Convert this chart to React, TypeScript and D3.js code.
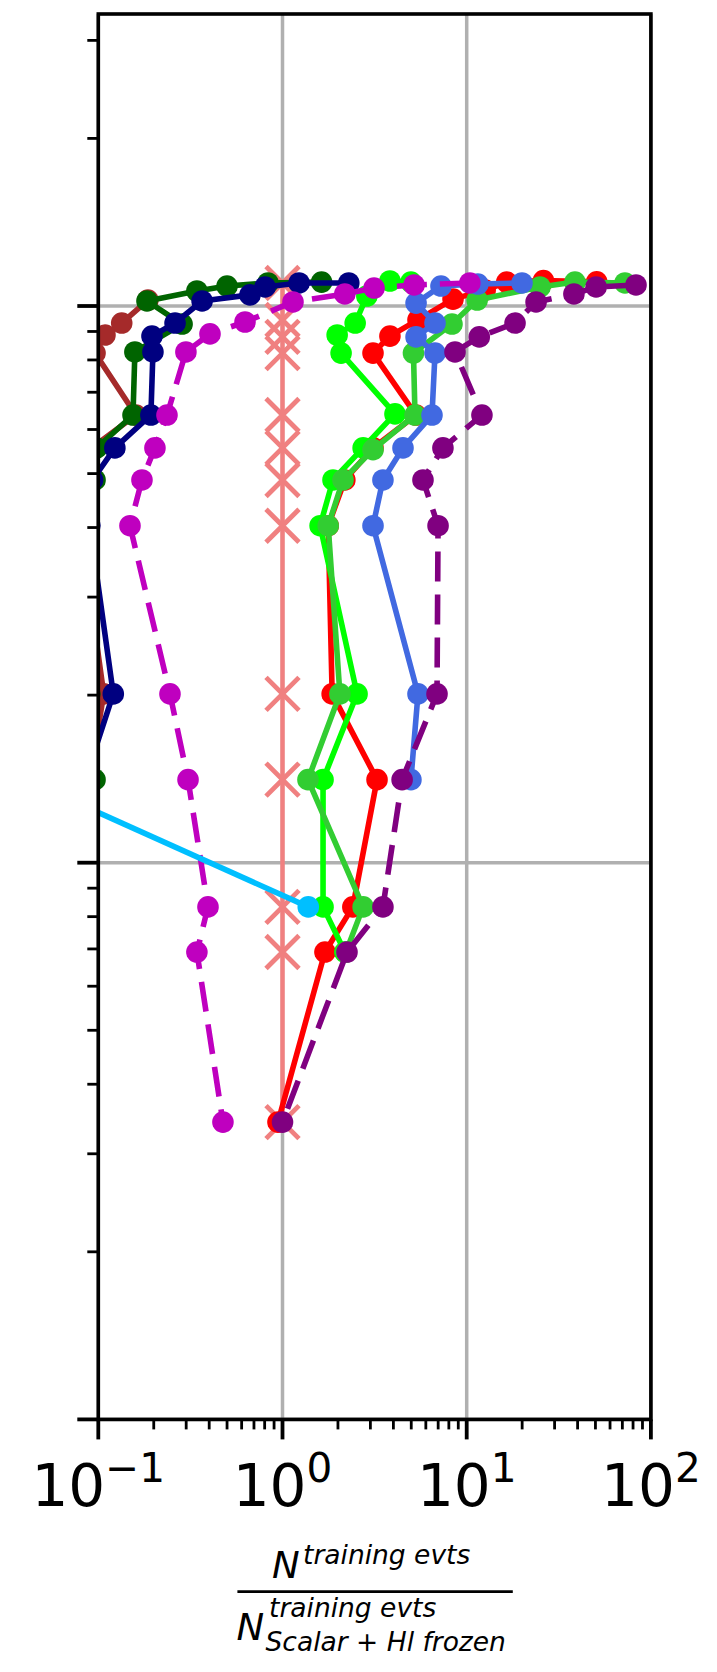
import React from 'react';
import * as d3 from 'd3';

const W = 717;
const H = 1672;
const plot = { left: 98.3, right: 650.9, top: 14, bottom: 1419.4 };

const xDomain: [number, number] = [0.1, 100];
const yDomain: [number, number] = [0.01, 3.346];
const xTickExps = [-1, 0, 1, 2];
const xTickLabels = ['\u22121', '0', '1', '2'];
const yMajorTicks = [0.01, 0.1, 1];

// Reference: ratio 1 at every working point
const refX = [1, 1, 1, 1, 1, 1, 1, 1, 1, 1, 1, 1, 1];
const refY = [1.1, 0.944, 0.88, 0.823, 0.637, 0.556, 0.487, 0.403, 0.201, 0.141, 0.0833, 0.0691, 0.0342];

const brownX = [0.186, 0.134, 0.1087, 0.096, 0.16, 0.092, 0.085, 0.08, 0.107, 0.09];
const brownY = [1.025, 0.932, 0.887, 0.823, 0.637, 0.556, 0.487, 0.403, 0.201, 0.141];

const darkgreenX = [1.63, 0.834, 0.5, 0.343, 0.1838, 0.285, 0.158, 0.1543, 0.098, 0.096, 0.085, 0.09, 0.096];
const darkgreenY = [1.104, 1.1, 1.086, 1.064, 1.021, 0.928, 0.827, 0.637, 0.556, 0.487, 0.403, 0.201, 0.141];

const navyX = [2.29, 1.23, 0.804, 0.666, 0.366, 0.261, 0.1956, 0.198, 0.193, 0.123, 0.093, 0.09, 0.1206, 0.085];
const navyY = [1.1, 1.1, 1.082, 1.047, 1.021, 0.932, 0.883, 0.827, 0.637, 0.556, 0.487, 0.403, 0.201, 0.141];

const redX = [50.8, 26.1, 16.5, 12.6, 8.43, 5.44, 3.83, 3.1, 5.31, 3.1, 2.18, 1.77, 1.86, 3.26, 2.41, 1.7, 0.945];
const redY = [1.105, 1.111, 1.104, 1.068, 1.029, 0.944, 0.883, 0.823, 0.637, 0.556, 0.487, 0.403, 0.201, 0.141, 0.0833, 0.0691, 0.0342];

const limeX = [4.98, 3.83, 2.87, 2.48, 1.98, 2.08, 4.08, 2.74, 1.88, 1.6, 2.54, 1.66, 1.66, 2.18];
const limeY = [1.104, 1.109, 1.042, 0.932, 0.887, 0.823, 0.64, 0.556, 0.487, 0.403, 0.201, 0.141, 0.0833, 0.0691];

const limegreenX = [72.3, 38.7, 25.0, 11.4, 8.32, 5.14, 5.24, 3.1, 2.13, 1.77, 2.05, 1.375, 2.74, 2.21];
const limegreenY = [1.1, 1.104, 1.082, 1.025, 0.928, 0.823, 0.637, 0.552, 0.487, 0.403, 0.201, 0.141, 0.0833, 0.0691];

const royalblueX = [19.96, 11.5, 7.25, 5.31, 6.73, 5.31, 6.73, 6.48, 4.51, 3.51, 3.1, 5.44, 4.98];
const royalblueY = [1.1, 1.095, 1.086, 1.012, 0.932, 0.88, 0.823, 0.637, 0.556, 0.487, 0.403, 0.201, 0.141];

const magentaX = [10.4, 5.18, 3.14, 2.18, 1.14, 0.626, 0.404, 0.299, 0.236, 0.203, 0.1726, 0.1486, 0.245, 0.307, 0.394, 0.343, 0.475];
const magentaY = [1.1, 1.091, 1.077, 1.051, 1.017, 0.936, 0.891, 0.827, 0.637, 0.556, 0.487, 0.403, 0.201, 0.141, 0.0833, 0.0691, 0.0342];

const purpleX = [83.0, 50.4, 38.2, 23.8, 18.3, 11.7, 8.64, 12.1, 7.43, 5.79, 6.99, 6.9, 4.46, 3.51, 2.24, 1.0];
const purpleY = [1.091, 1.082, 1.051, 1.017, 0.932, 0.88, 0.827, 0.637, 0.556, 0.487, 0.403, 0.201, 0.141, 0.0833, 0.0691, 0.0342];

const skyblueX = [0.04, 1.38];
const skyblueY = [0.141, 0.0833];

type Series = {
  key: string;
  color: string;
  xs: number[];
  ys: number[];
  dashed?: boolean;
  marker: 'o' | 'x';
  lw: number;
};

const series: Series[] = [
  { key: 'ref', color: '#f08080', xs: refX, ys: refY, marker: 'x', lw: 4.5 },
  { key: 'brown', color: '#a52a2a', xs: brownX, ys: brownY, marker: 'o', lw: 5.6 },
  { key: 'darkgreen', color: '#006400', xs: darkgreenX, ys: darkgreenY, marker: 'o', lw: 5.6 },
  { key: 'navy', color: '#000080', xs: navyX, ys: navyY, marker: 'o', lw: 5.6 },
  { key: 'red', color: '#ff0000', xs: redX, ys: redY, marker: 'o', lw: 5.6 },
  { key: 'lime', color: '#00ff00', xs: limeX, ys: limeY, marker: 'o', lw: 5.6 },
  { key: 'limegreen', color: '#32cd32', xs: limegreenX, ys: limegreenY, marker: 'o', lw: 5.6 },
  { key: 'royalblue', color: '#4169e1', xs: royalblueX, ys: royalblueY, marker: 'o', lw: 5.6 },
  { key: 'magenta', color: '#bf00bf', xs: magentaX, ys: magentaY, marker: 'o', lw: 5.6, dashed: true },
  { key: 'purple', color: '#800080', xs: purpleX, ys: purpleY, marker: 'o', lw: 5.6, dashed: true },
  { key: 'skyblue', color: '#00bfff', xs: skyblueX, ys: skyblueY, marker: 'o', lw: 5.6 },
];

export default function App() {
  const x = d3.scaleLog().domain(xDomain).range([plot.left, plot.right]);
  const y = d3.scaleLog().domain(yDomain).range([plot.bottom, plot.top]);
  const line = d3
    .line<[number, number]>()
    .x((d) => x(d[0]))
    .y((d) => y(d[1]));

  const xMinor: number[] = [];
  for (let e = -1; e <= 1; e++) for (let k = 2; k <= 9; k++) xMinor.push(k * Math.pow(10, e));
  const yMinor: number[] = [];
  for (let e = -2; e <= 0; e++)
    for (let k = 2; k <= 9; k++) {
      const v = k * Math.pow(10, e);
      if (v <= yDomain[1]) yMinor.push(v);
    }

  const font = 'DejaVu Sans, sans-serif';

  return (
    <svg
      width={W}
      height={H}
      viewBox={`0 0 ${W} ${H}`}
      style={{ position: 'absolute', left: 0, top: 0, background: '#fff' }}
    >
      <defs>
        <clipPath id="plotArea">
          <rect x={plot.left} y={plot.top} width={plot.right - plot.left} height={plot.bottom - plot.top} />
        </clipPath>
      </defs>
      <rect x={0} y={0} width={W} height={H} fill="#fff" />

      {/* grid */}
      <g stroke="#b0b0b0" strokeWidth={3.5}>
        {xTickExps.map((e) => (
          <line key={`gx${e}`} x1={x(Math.pow(10, e))} x2={x(Math.pow(10, e))} y1={plot.top} y2={plot.bottom} />
        ))}
        {yMajorTicks.map((v) => (
          <line key={`gy${v}`} x1={plot.left} x2={plot.right} y1={y(v)} y2={y(v)} />
        ))}
      </g>

      {/* data */}
      <g clipPath="url(#plotArea)">
        {series.map((s) => {
          const pts = s.xs.map((xv, i) => [xv, s.ys[i]] as [number, number]);
          return (
            <g key={s.key}>
              <path
                d={line(pts) || ''}
                fill="none"
                stroke={s.color}
                strokeWidth={s.lw}
                strokeDasharray={s.dashed ? '30 13' : undefined}
                strokeLinejoin="round"
              />
              {pts.map((p, i) =>
                s.marker === 'o' ? (
                  <circle key={i} cx={x(p[0])} cy={y(p[1])} r={10.8} fill={s.color} />
                ) : (
                  <path
                    key={i}
                    transform={`translate(${x(p[0])},${y(p[1])})`}
                    d="M-16.5,-16.5L16.5,16.5M-16.5,16.5L16.5,-16.5"
                    stroke={s.color}
                    strokeWidth={4.8}
                    fill="none"
                  />
                )
              )}
            </g>
          );
        })}
      </g>

      {/* spines */}
      <rect
        x={plot.left}
        y={plot.top}
        width={plot.right - plot.left}
        height={plot.bottom - plot.top}
        fill="none"
        stroke="#000"
        strokeWidth={3.6}
      />

      {/* y ticks */}
      <g stroke="#000">
        {yMajorTicks.map((v) => (
          <line key={`ym${v}`} x1={plot.left - 21} x2={plot.left} y1={y(v)} y2={y(v)} strokeWidth={3.8} />
        ))}
        {yMinor.map((v) => (
          <line key={`yn${v}`} x1={plot.left - 11} x2={plot.left} y1={y(v)} y2={y(v)} strokeWidth={2.8} />
        ))}
      </g>

      {/* x ticks */}
      <g stroke="#000">
        {xTickExps.map((e) => (
          <line
            key={`xm${e}`}
            x1={x(Math.pow(10, e))}
            x2={x(Math.pow(10, e))}
            y1={plot.bottom}
            y2={plot.bottom + 20}
            strokeWidth={3.8}
          />
        ))}
        {xMinor.map((v) => (
          <line key={`xn${v}`} x1={x(v)} x2={x(v)} y1={plot.bottom} y2={plot.bottom + 10} strokeWidth={2.8} />
        ))}
      </g>

      {/* x tick labels */}
      <g fontFamily={font} fill="#000">
        {xTickExps.map((e, i) => (
          <text key={`xl${e}`} x={x(Math.pow(10, e))} y={1506} fontSize={58} textAnchor="middle">
            10
            <tspan dy={-24.5} fontSize={40.6}>
              {xTickLabels[i]}
            </tspan>
          </text>
        ))}
      </g>

      {/* x axis label as a fraction */}
      <g fontFamily={font} fontStyle="italic" fill="#000">
        <text x={272} y={1578.3} fontSize={37}>N</text>
        <text x={303} y={1564} fontSize={26.5}>training evts</text>
        <line x1={237.4} x2={512.8} y1={1591.7} y2={1591.7} stroke="#000" strokeWidth={2.7} />
        <text x={236.5} y={1640} fontSize={37}>N</text>
        <text x={269} y={1617.3} fontSize={26.5}>training evts</text>
        <text x={265.5} y={1650.7} fontSize={26.5}>
          Scalar <tspan fontStyle="normal">+</tspan> Hl frozen
        </text>
      </g>
    </svg>
  );
}
